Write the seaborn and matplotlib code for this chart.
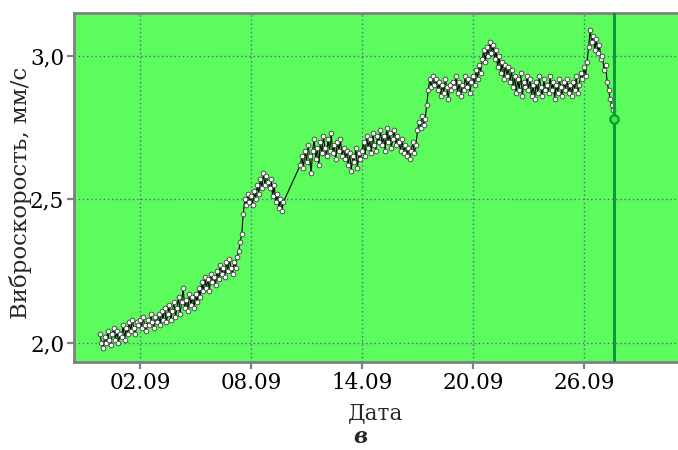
import numpy as np
import pandas as pd
import matplotlib
matplotlib.use("Agg")
import matplotlib.pyplot as plt
import matplotlib.dates as mdates
from matplotlib.ticker import FixedLocator, FuncFormatter
import seaborn as sns

# Vibration velocity readings, one every 2 hours
# first run: 30.08 20:00 .. 09.09 18:00
velocity_run1 = [
    2.03, 2.00,
    1.98, 2.02, 2.00, 2.04, 2.01, 1.99, 2.03, 2.05, 2.01, 2.04, 2.00, 2.03,
    2.02, 2.06, 2.01, 2.05, 2.03, 2.07, 2.04, 2.08, 2.05, 2.03, 2.07, 2.06,
    2.08, 2.05, 2.09, 2.06, 2.04, 2.08, 2.06, 2.10, 2.07, 2.05, 2.09, 2.07,
    2.10, 2.06, 2.11, 2.08, 2.12, 2.07, 2.10, 2.13, 2.08, 2.11, 2.14, 2.09,
    2.12, 2.16, 2.10, 2.14, 2.19, 2.12, 2.15, 2.11, 2.17, 2.13, 2.16, 2.12,
    2.17, 2.14, 2.19, 2.16, 2.21, 2.18, 2.23, 2.19, 2.22, 2.18, 2.24, 2.21,
    2.23, 2.20, 2.25, 2.22, 2.27, 2.24, 2.26, 2.23, 2.28, 2.25, 2.29, 2.26,
    2.24, 2.28, 2.26, 2.30, 2.32, 2.35, 2.38, 2.45, 2.50, 2.48, 2.52, 2.49,
    2.51, 2.48, 2.53, 2.50, 2.55, 2.52, 2.57, 2.54, 2.59, 2.55, 2.58, 2.56,
    2.54, 2.57, 2.51, 2.55, 2.49, 2.52, 2.47, 2.50, 2.46, 2.49,
]
# second run: 10.09 16:00 .. 27.09 14:00
velocity_run2 = [
    2.62, 2.65, 2.61, 2.67,
    2.63, 2.69, 2.65, 2.59, 2.67, 2.71, 2.64, 2.68, 2.62, 2.70, 2.66, 2.72,
    2.68, 2.65, 2.71, 2.67, 2.73, 2.66, 2.69, 2.64, 2.70, 2.67, 2.71, 2.65,
    2.68, 2.64, 2.67, 2.62, 2.66, 2.60, 2.65, 2.63, 2.68, 2.61, 2.66, 2.64,
    2.67, 2.70, 2.65, 2.72, 2.68, 2.71, 2.66, 2.73, 2.69, 2.67, 2.72, 2.70,
    2.74, 2.69, 2.72, 2.67, 2.75, 2.70, 2.73, 2.68, 2.71, 2.74, 2.69, 2.72,
    2.70, 2.67, 2.71, 2.66, 2.69, 2.65, 2.68, 2.64, 2.67, 2.70, 2.66, 2.69,
    2.74, 2.77, 2.75, 2.79, 2.76, 2.78, 2.83, 2.88, 2.92, 2.89, 2.93, 2.90,
    2.92, 2.88, 2.91, 2.86, 2.90, 2.87, 2.92, 2.89, 2.85, 2.90, 2.88, 2.91,
    2.89, 2.93, 2.87, 2.91, 2.86, 2.90, 2.88, 2.93, 2.89, 2.92, 2.87, 2.91,
    2.93, 2.90, 2.95, 2.92, 2.97, 2.94, 2.99, 3.02, 2.98, 3.03, 3.00, 3.05,
    3.01, 3.04, 2.99, 3.02, 2.96, 3.00, 2.94, 2.98, 2.92, 2.97, 2.93, 2.96,
    2.91, 2.95, 2.89, 2.93, 2.87, 2.92, 2.88, 2.94, 2.86, 2.91, 2.89, 2.93,
    2.88, 2.92, 2.86, 2.90, 2.85, 2.91, 2.87, 2.93, 2.89, 2.86, 2.92, 2.88,
    2.90, 2.87, 2.93, 2.88, 2.91, 2.85, 2.90, 2.87, 2.92, 2.89, 2.86, 2.91,
    2.88, 2.92, 2.87, 2.90, 2.86, 2.91, 2.88, 2.93, 2.87, 2.90, 2.94, 2.92,
    2.96, 2.93, 2.98, 3.03, 3.09, 3.05, 3.07, 3.02, 3.06, 3.01, 3.04, 2.99,
    3.00, 2.95, 2.97, 2.91, 2.88, 2.85, 2.83, 2.81,
]
run1_start = "2023-08-30 20:00"
run2_start = "2023-09-10 16:00"
step = "2h"

# current reading (cursor)
cursor_time = "2023-09-27 14:50"
cursor_value = 2.78

tick_dates = ["2023-09-02", "2023-09-08", "2023-09-14", "2023-09-20", "2023-09-26"]
y_ticks = [2.0, 2.5, 3.0]

t1 = pd.date_range(run1_start, periods=len(velocity_run1), freq=step)
t2 = pd.date_range(run2_start, periods=len(velocity_run2), freq=step)
df = pd.DataFrame({
    "time": list(t1) + list(t2),
    "value": velocity_run1 + velocity_run2,
})

sns.set_style("ticks")
plt.rcParams["font.family"] = ["DejaVu Serif"]

fig = plt.figure(figsize=(6.78, 4.5), dpi=100)
ax = fig.add_axes([74 / 678, 88 / 450, 1 - 74 / 678, (362 - 13) / 450])
ax.set_facecolor("#5cfc5c")

sns.lineplot(data=df, x="time", y="value", ax=ax, color="black", lw=0.8,
             marker="o", markersize=3.4, markerfacecolor="white",
             markeredgecolor="#3a3a3a", markeredgewidth=0.6, zorder=3)

ct = pd.Timestamp(cursor_time)
ax.axvline(ct, color="#0a9a3c", lw=2.2, zorder=4)
ax.plot([ct], [cursor_value], marker="o", ms=6, mfc="#3cf03c",
        mec="#0a9a3c", mew=1.6, zorder=5)

ax.set_xlim(pd.Timestamp("2023-08-29 10:20"), pd.Timestamp("2023-10-01 02:00"))
ax.set_ylim(1.932, 3.15)

ax.xaxis.set_major_locator(FixedLocator(mdates.date2num(pd.to_datetime(tick_dates))))
ax.xaxis.set_major_formatter(mdates.DateFormatter("%d.%m"))
ax.yaxis.set_major_locator(FixedLocator(y_ticks))
ax.yaxis.set_major_formatter(FuncFormatter(lambda v, p: f"{v:.1f}".replace(".", ",")))

ax.grid(True, color="#4a6890", linestyle=(0, (1, 2)), lw=1.0)
ax.tick_params(axis="both", labelsize=15.5, colors="black", length=5,
               width=1.6, pad=2)
ax.tick_params(axis="both", color="#808080")

for side in ["left", "bottom", "top"]:
    ax.spines[side].set_color("#808080")
    ax.spines[side].set_linewidth(2)
ax.spines["right"].set_visible(False)

ax.set_xlabel("Дата", fontsize=15.5, labelpad=6)
ax.set_ylabel("Виброскорость, мм/с", fontsize=16.5, va="center")
ax.yaxis.set_label_coords(-0.088, 0.485)

fig.text(360 / 678, 1 - 437 / 450, "в", fontsize=15.5, fontweight="bold",
         fontstyle="italic", ha="center", va="center")

fig.savefig("out.png", dpi=100)
